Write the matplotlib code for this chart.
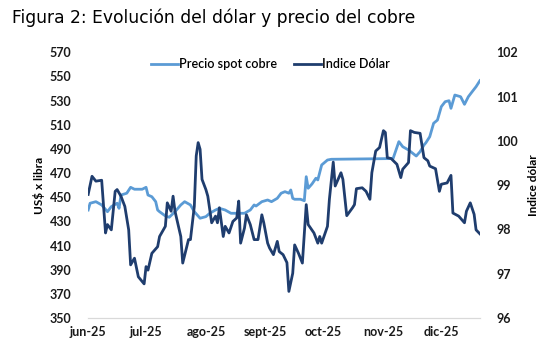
import pandas as pd
import matplotlib.pyplot as plt

# Precio spot cobre (US$ x libra), eje izquierdo
cobre_fechas = ['2025-06-01', '2025-06-02', '2025-06-05', '2025-06-08', '2025-06-11', '2025-06-13',
                '2025-06-16', '2025-06-17', '2025-06-18', '2025-06-21', '2025-06-23', '2025-06-25',
                '2025-06-29', '2025-07-01', '2025-07-02', '2025-07-04', '2025-07-06', '2025-07-07',
                '2025-07-08', '2025-07-11', '2025-07-13', '2025-07-16', '2025-07-19', '2025-07-21',
                '2025-07-24', '2025-07-26', '2025-07-29', '2025-08-01', '2025-08-03', '2025-08-06',
                '2025-08-08', '2025-08-11', '2025-08-14', '2025-08-18', '2025-08-21', '2025-08-24',
                '2025-08-26', '2025-08-27', '2025-08-30', '2025-09-02', '2025-09-04', '2025-09-07',
                '2025-09-09', '2025-09-11', '2025-09-13', '2025-09-14', '2025-09-15', '2025-09-16',
                '2025-09-19', '2025-09-21', '2025-09-22', '2025-09-23', '2025-09-25', '2025-09-27',
                '2025-09-28', '2025-09-30', '2025-10-03', '2025-10-05', '2025-11-06', '2025-11-09',
                '2025-11-11', '2025-11-14', '2025-11-18', '2025-11-20', '2025-11-22', '2025-11-23',
                '2025-11-25', '2025-11-27', '2025-11-29', '2025-12-01', '2025-12-03', '2025-12-05',
                '2025-12-06', '2025-12-08', '2025-12-11', '2025-12-13', '2025-12-15', '2025-12-17',
                '2025-12-19', '2025-12-21']
cobre = [439.4, 445.0, 446.3, 443.6, 438.0, 442.2,
         445.0, 440.8, 451.8, 453.3, 458.2, 456.6,
         456.6, 458.2, 451.8, 450.4, 446.3, 439.4,
         438.0, 434.5, 433.4, 438.0, 443.6, 446.3,
         443.6, 438.0, 432.6, 433.9, 436.7, 439.4,
         440.8, 439.4, 436.7, 436.7, 436.7, 439.4,
         443.6, 442.7, 446.3, 447.7, 446.3, 449.1,
         453.3, 454.6, 453.3, 456.0, 449.1, 448.3,
         448.3, 447.1, 467.0, 457.4, 461.0, 465.7,
         464.3, 476.7, 480.8, 481.4, 482.0, 496.0,
         491.8, 489.1, 484.1, 487.7, 493.2, 495.1,
         500.1, 511.2, 513.9, 525.0, 529.1, 529.9,
         523.6, 534.6, 533.2, 526.9, 533.2, 537.4,
         541.5, 546.5]

# Indice Dolar, eje derecho
dolar_fechas = ['2025-06-01', '2025-06-03', '2025-06-05', '2025-06-08', '2025-06-10', '2025-06-11',
                '2025-06-13', '2025-06-15', '2025-06-16', '2025-06-18', '2025-06-20', '2025-06-22',
                '2025-06-23', '2025-06-25', '2025-06-27', '2025-06-30', '2025-07-01', '2025-07-02',
                '2025-07-04', '2025-07-07', '2025-07-08', '2025-07-11', '2025-07-12', '2025-07-14',
                '2025-07-15', '2025-07-16', '2025-07-19', '2025-07-20', '2025-07-23', '2025-07-24',
                '2025-07-26', '2025-07-27', '2025-07-28', '2025-07-29', '2025-07-30', '2025-08-01',
                '2025-08-02', '2025-08-03', '2025-08-04', '2025-08-06', '2025-08-07', '2025-08-08',
                '2025-08-10', '2025-08-11', '2025-08-13', '2025-08-15', '2025-08-17', '2025-08-18',
                '2025-08-19', '2025-08-21', '2025-08-22', '2025-08-24', '2025-08-26', '2025-08-28',
                '2025-08-30', '2025-08-31', '2025-09-02', '2025-09-03', '2025-09-05', '2025-09-07',
                '2025-09-08', '2025-09-10', '2025-09-12', '2025-09-13', '2025-09-15', '2025-09-16',
                '2025-09-18', '2025-09-20', '2025-09-22', '2025-09-23', '2025-09-26', '2025-09-28',
                '2025-09-29', '2025-09-30', '2025-10-03', '2025-10-04', '2025-10-06', '2025-10-07',
                '2025-10-10', '2025-10-11', '2025-10-13', '2025-10-16', '2025-10-17', '2025-10-18',
                '2025-10-21', '2025-10-23', '2025-10-25', '2025-10-26', '2025-10-28', '2025-10-30',
                '2025-11-01', '2025-11-02', '2025-11-03', '2025-11-05', '2025-11-08', '2025-11-10',
                '2025-11-11', '2025-11-14', '2025-11-15', '2025-11-17', '2025-11-20', '2025-11-22',
                '2025-11-24', '2025-11-25', '2025-11-28', '2025-11-30', '2025-12-01', '2025-12-04',
                '2025-12-06', '2025-12-07', '2025-12-10', '2025-12-13', '2025-12-14', '2025-12-16',
                '2025-12-18', '2025-12-19', '2025-12-21']
dolar = [98.79, 99.20, 99.09, 99.11, 97.92, 98.11,
         97.99, 98.86, 98.90, 98.75, 98.52, 97.99,
         97.20, 97.35, 96.93, 96.77, 97.16, 97.08,
         97.46, 97.61, 97.84, 98.07, 98.60, 98.41,
         98.75, 98.41, 97.84, 97.24, 97.77, 97.77,
         98.52, 99.66, 99.96, 99.81, 99.13, 98.90,
         98.75, 98.45, 98.15, 98.30, 98.15, 98.49,
         97.84, 98.07, 97.92, 98.18, 98.26, 98.64,
         97.69, 98.03, 98.33, 98.11, 97.77, 97.77,
         98.33, 98.15, 97.69, 97.58, 97.43, 97.73,
         97.50, 97.43, 97.25, 96.60, 97.01, 97.65,
         97.46, 97.24, 98.56, 98.11, 97.92, 97.69,
         97.84, 97.69, 98.07, 98.68, 99.52, 98.98,
         99.28, 99.13, 98.31, 98.49, 98.56, 98.92,
         98.94, 98.86, 98.68, 99.28, 99.77, 99.85,
         100.23, 100.19, 99.62, 99.60, 99.47, 99.17,
         99.36, 99.51, 100.23, 100.19, 100.17, 99.62,
         99.55, 99.43, 99.37, 98.86, 99.02, 99.05,
         99.22, 98.37, 98.30, 98.15, 98.41, 98.60,
         98.34, 97.99, 97.90]

meses = ['2025-06-01', '2025-07-01', '2025-08-01', '2025-09-01',
         '2025-10-01', '2025-11-01', '2025-12-01']
etiquetas_meses = ['jun-25', 'jul-25', 'ago-25', 'sept-25', 'oct-25', 'nov-25', 'dic-25']

color_cobre = '#5b9bd5'
color_dolar = '#1f3d6e'
fuente = 'Lato'

fig = plt.figure(figsize=(5.51, 3.63), dpi=100)
ax = fig.add_axes([0.16, 0.124, 0.711, 0.732])
ax2 = ax.twinx()

ax.plot(pd.to_datetime(cobre_fechas), cobre, color=color_cobre, lw=2.0,
        label='Precio spot cobre')
ax2.plot(pd.to_datetime(dolar_fechas), dolar, color=color_dolar, lw=2.0,
         label='Indice Dólar')

ax.set_ylim(350, 570)
ax.set_yticks(range(350, 571, 20))
ax2.set_ylim(96, 102)
ax2.set_yticks(range(96, 103))
ax.set_xlim(pd.Timestamp('2025-06-01'), pd.Timestamp('2025-12-21'))
ax.set_xticks(pd.to_datetime(meses))
ax.set_xticklabels(etiquetas_meses)

for a in (ax, ax2):
    for s in ('top', 'left', 'right'):
        a.spines[s].set_visible(False)
    a.spines['bottom'].set_color('#d9d9d9')
    a.tick_params(length=0, labelsize=9, colors='#1a1a1a')
ax.tick_params(axis='y', pad=12)
ax2.tick_params(axis='y', pad=12)
ax.tick_params(axis='x', pad=6)
for lbl in ax.get_xticklabels() + ax.get_yticklabels() + ax2.get_yticklabels():
    lbl.set_fontfamily(fuente)
    lbl.set_fontweight('bold')

ax.set_ylabel('US$ x libra', fontfamily=fuente, fontweight='bold', fontsize=8.5, labelpad=3)
ax2.set_ylabel('Indice dólar', fontfamily=fuente, fontweight='bold', fontsize=8.5, labelpad=7)

lineas = ax.get_lines() + ax2.get_lines()
ax.legend(lineas, [l.get_label() for l in lineas], loc='upper center', ncol=2,
          frameon=False, bbox_to_anchor=(0.465, 1.02), handlelength=2.2,
          handletextpad=0.1, columnspacing=1.3,
          prop={'family': fuente, 'size': 9, 'weight': 'semibold'})

fig.text(0.022, 0.95, 'Figura 2: Evolución del dólar y precio del cobre',
         fontsize=12.3, fontfamily='DejaVu Sans', va='center', ha='left')

fig.savefig('out.png', dpi=100)
